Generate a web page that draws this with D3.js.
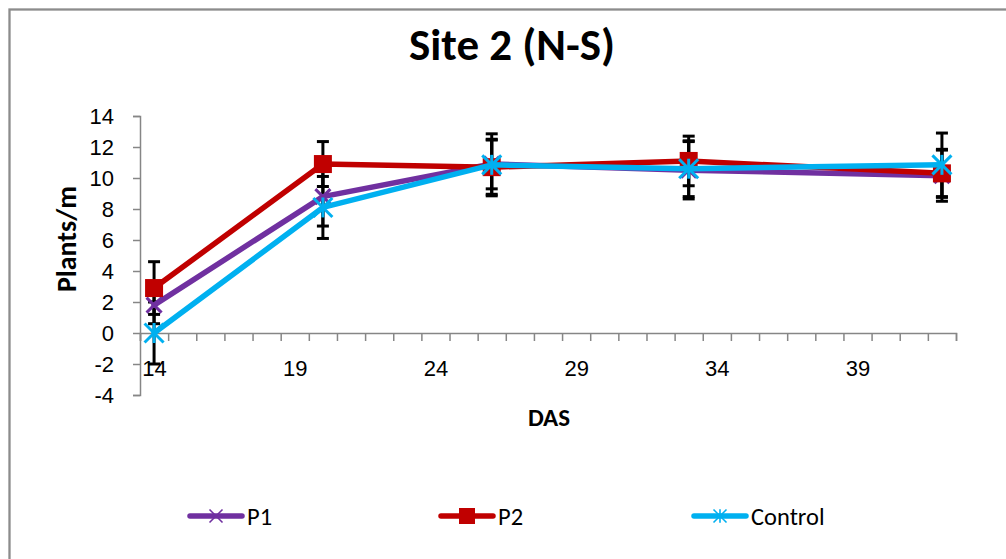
<!DOCTYPE html>
<html>
<head>
<meta charset="utf-8">
<script src="https://cdn.jsdelivr.net/npm/d3@7"></script>
<style>
  html, body { margin: 0; padding: 0; background: #fff; }
  svg { display: block; font-family: Carlito, Calibri, Lato, sans-serif; }
</style>
</head>
<body>
<svg id="chart" width="1006" height="559"></svg>
<script>
// Plant stand (plants per metre) by days after sowing, Site 2 (N-S)
const das = [14, 20, 26, 33, 42];
const p1 = [1.8, 8.8, 10.9, 10.5, 10.15];
const p2 = [2.9, 10.9, 10.7, 11.1, 10.3];
const control = [0.0, 8.1, 10.85, 10.6, 10.85];
const p1Err = [1.2, 1.9, 1.6, 1.85, 1.65];
const p2Err = [1.7, 1.45, 1.75, 1.6, 1.55];
const controlErr = [2.0, 2.0, 2.0, 1.8, 2.05];
const seriesNames = ["P1", "P2", "Control"];
const yTicks = [-4, -2, 0, 2, 4, 6, 8, 10, 12, 14];
const xLabelTicks = [14, 19, 24, 29, 34, 39];
const xMarkTicks = d3.range(13.5, 42.6, 1);

const colors = { P1: "#7030A0", P2: "#C00000", Control: "#00B0F0" };
const series = [
  { name: "P1", values: p1, err: p1Err, marker: "x" },
  { name: "P2", values: p2, err: p2Err, marker: "square" },
  { name: "Control", values: control, err: controlErr, marker: "star" }
];

const svg = d3.select("#chart");
const axisGrey = "#868686";
const plainNumber = d => String(d);

// outer chart frame
svg.append("rect")
  .attr("x", 9.5).attr("y", 9.5)
  .attr("width", 1200).attr("height", 800)
  .attr("fill", "none").attr("stroke", "#8c8c8c").attr("stroke-width", 2.3);

const x = d3.scaleLinear().domain([13.5, 42.5]).range([140, 956]);
const y = d3.scaleLinear().domain([-4, 14]).range([395, 116]);

// title
svg.append("text")
  .attr("x", 512).attr("y", 60)
  .attr("text-anchor", "middle")
  .attr("font-size", 45).attr("font-weight", "bold")
  .text("Site 2 (N-S)");

// y axis
const yAxis = svg.append("g")
  .attr("transform", `translate(${x(13.5)},0)`)
  .call(d3.axisLeft(y).tickValues(yTicks).tickSize(7).tickPadding(19).tickFormat(plainNumber));
yAxis.selectAll("path, line").attr("stroke", axisGrey).attr("stroke-width", 1.5);
yAxis.selectAll("text").attr("font-size", 22).attr("fill", "#000").attr("font-family", null);

// x axis: tick marks every day, labels every five days
const xAxisMarks = svg.append("g")
  .attr("transform", `translate(0,${y(0)})`)
  .call(d3.axisBottom(x).tickValues(xMarkTicks).tickSize(8).tickSizeOuter(8).tickFormat(""));
xAxisMarks.selectAll("path, line").attr("stroke", axisGrey).attr("stroke-width", 1.5);

const xAxisLabels = svg.append("g")
  .attr("transform", `translate(0,${y(0)})`)
  .call(d3.axisBottom(x).tickValues(xLabelTicks).tickSize(0).tickFormat(plainNumber));
xAxisLabels.select(".domain").remove();
xAxisLabels.selectAll("text")
  .attr("y", 35).attr("dy", "0.35em")
  .attr("font-size", 22).attr("fill", "#000").attr("font-family", null);

// axis titles
svg.append("text")
  .attr("transform", `translate(76,239) rotate(-90)`)
  .attr("text-anchor", "middle")
  .attr("font-size", 28).attr("font-weight", "bold")
  .text("Plants/m");

svg.append("text")
  .attr("x", 549).attr("y", 426)
  .attr("text-anchor", "middle")
  .attr("font-size", 25).attr("font-weight", "bold")
  .text("DAS");

// marker drawing helper
function drawMarker(g, type, cx, cy, color, size, sw) {
  const h = size / 2;
  if (type === "square") {
    g.append("rect")
      .attr("x", cx - h).attr("y", cy - h)
      .attr("width", size).attr("height", size)
      .attr("fill", color);
  } else {
    const segs = [[-h, -h, h, h], [-h, h, h, -h]];
    if (type === "star") segs.push([0, -h * 1.05, 0, h * 1.05]);
    segs.forEach(s => g.append("line")
      .attr("x1", cx + s[0]).attr("y1", cy + s[1])
      .attr("x2", cx + s[2]).attr("y2", cy + s[3])
      .attr("stroke", color).attr("stroke-width", sw));
  }
}

// error bars
const errG = svg.append("g");
series.forEach(s => {
  das.forEach((d, i) => {
    const cx = x(d);
    const top = y(s.values[i] + s.err[i]);
    const bot = y(s.values[i] - s.err[i]);
    errG.append("line").attr("x1", cx).attr("x2", cx).attr("y1", top).attr("y2", bot)
      .attr("stroke", "#000").attr("stroke-width", 3);
    [top, bot].forEach(yy => errG.append("line")
      .attr("x1", cx - 6).attr("x2", cx + 6).attr("y1", yy).attr("y2", yy)
      .attr("stroke", "#000").attr("stroke-width", 3));
  });
});

// lines and markers
const line = d3.line().x(d => x(d[0])).y(d => y(d[1]));
series.forEach(s => {
  const g = svg.append("g");
  const pts = das.map((d, i) => [d, s.values[i]]);
  g.append("path").datum(pts)
    .attr("d", line)
    .attr("fill", "none")
    .attr("stroke", colors[s.name])
    .attr("stroke-width", 5.5)
    .attr("stroke-linejoin", "round")
    .attr("stroke-linecap", "round");
  pts.forEach(p => {
    const size = s.marker === "square" ? 18 : (s.marker === "star" ? 19 : 15);
    drawMarker(g, s.marker, x(p[0]), y(p[1]), colors[s.name], size, 3);
  });
});

// legend
const legendX = [190, 441, 694];
const legendY = 516;
series.forEach((s, i) => {
  const g = svg.append("g");
  const x0 = legendX[i];
  g.append("line")
    .attr("x1", x0).attr("x2", x0 + 52)
    .attr("y1", legendY).attr("y2", legendY)
    .attr("stroke", colors[s.name]).attr("stroke-width", 5.5)
    .attr("stroke-linecap", "round");
  const size = s.marker === "square" ? 16 : 13;
  drawMarker(g, s.marker, x0 + 26, legendY, colors[s.name], size, 1.6);
  g.append("text")
    .attr("x", x0 + 57).attr("y", legendY)
    .attr("dy", "0.36em")
    .attr("font-size", 24.5)
    .text(s.name);
});
</script>
</body>
</html>
